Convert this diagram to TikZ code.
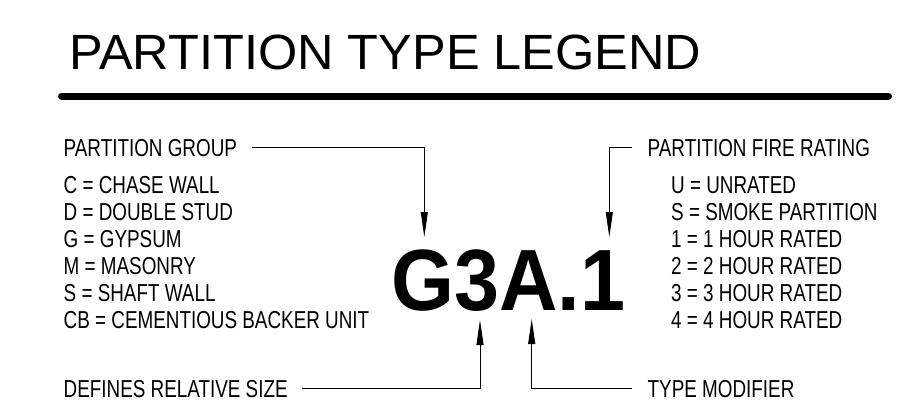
\documentclass[tikz,border=0pt]{standalone}
\usepackage{fontspec}
\setmainfont{Liberation Sans}
\newfontfamily\titlefont[FakeStretch=1.02]{Liberation Sans}
\newfontfamily\listfont[FakeStretch=0.77]{Liberation Sans}
\newfontfamily\codefont[FakeStretch=0.93]{Liberation Sans}
\usetikzlibrary{arrows.meta}
\tikzset{
  txt/.style={inner sep=0pt, anchor=base west, font=\listfont\fontsize{24.5}{24.5}\selectfont},
  titlesty/.style={inner sep=0pt, anchor=base west, font=\titlefont\fontsize{49.5}{49.5}\selectfont},
  codesty/.style={inner sep=0pt, anchor=base west, font=\codefont\bfseries\fontsize{87}{87}\selectfont},
  lead/.style={line width=0.9pt, -{Triangle[length=25pt,width=7pt]}},
  rulesty/.style={line width=7pt, line cap=round}
}
\begin{document}
\begin{tikzpicture}[x=1pt,y=-1pt]
\useasboundingbox (0,0) rectangle (898,416);
% title and rule
\node[titlesty] (title) at (69,69) {PARTITION TYPE LEGEND};
\coordinate (ruleL) at (61.5,96);
\coordinate (ruleR) at (888.5,96);
\draw[rulesty] (ruleL) -- (ruleR);
% left list
\node[txt] (grp) at (63.5,156) {PARTITION GROUP};
\node[txt] (g1) at (63.5,193) {C = CHASE WALL};
\node[txt] (g2) at (63.5,220) {D = DOUBLE STUD};
\node[txt] (g3) at (63.5,247) {G = GYPSUM};
\node[txt] (g4) at (63.5,274) {M = MASONRY};
\node[txt] (g5) at (63.5,301) {S = SHAFT WALL};
\node[txt] (g6) at (63.5,328) {CB = CEMENTIOUS BACKER UNIT};
% right list
\node[txt] (fire) at (647.5,156) {PARTITION FIRE RATING};
\node[txt] (f1) at (671,193) {U = UNRATED};
\node[txt] (f2) at (671,220) {S = SMOKE PARTITION};
\node[txt] (f3) at (671,247) {1 = 1 HOUR RATED};
\node[txt] (f4) at (671,274) {2 = 2 HOUR RATED};
\node[txt] (f5) at (671,301) {3 = 3 HOUR RATED};
\node[txt] (f6) at (671,328) {4 = 4 HOUR RATED};
% bottom labels
\node[txt] (size) at (63.5,397) {DEFINES RELATIVE SIZE};
\node[txt] (mod) at (647.5,397) {TYPE MODIFIER};
% code
\node[codesty] (code) at (391,310) {G3A.1};
% arrow tips
\coordinate (tG) at (424.3,237);
\coordinate (t1) at (609.3,237);
\coordinate (t3) at (480,320);
\coordinate (tA) at (531.7,319);
% leaders
\draw[lead] ([xshift=15pt]grp.east) -| (tG);
\draw[lead] ([xshift=-16pt]fire.west) -| (t1);
\draw[lead] ([xshift=14pt]size.east) -| (t3);
\draw[lead] ([xshift=-16pt]mod.west) -| (tA);
\end{tikzpicture}
\end{document}
